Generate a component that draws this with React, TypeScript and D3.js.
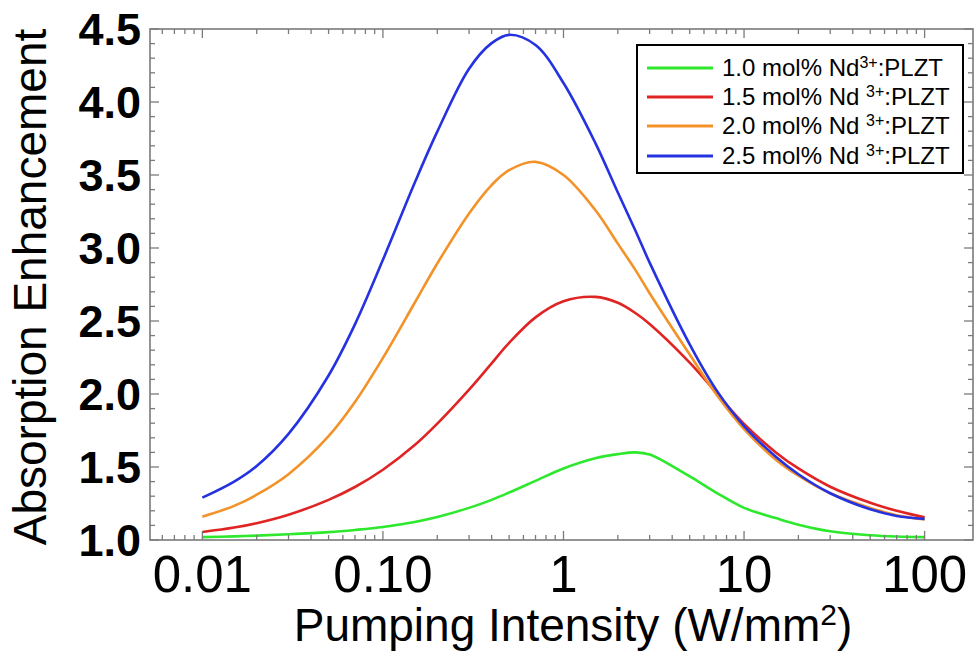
import React, { useEffect, useRef } from "react";
import * as d3 from "d3";

const intensity = [0.01, 0.015, 0.02, 0.03, 0.05, 0.07, 0.1, 0.15, 0.2, 0.3, 0.4, 0.5, 0.7, 1, 1.5, 2, 2.5, 3, 5, 7, 10, 15, 20, 30, 50, 70, 100];

const nd10 = [1.02, 1.025, 1.03, 1.039, 1.054, 1.069, 1.089, 1.123, 1.157, 1.22, 1.275, 1.325, 1.405, 1.49, 1.56, 1.588, 1.6, 1.585, 1.435, 1.325, 1.22, 1.15, 1.105, 1.06, 1.033, 1.024, 1.02];
const nd15 = [1.055, 1.085, 1.115, 1.173, 1.275, 1.363, 1.481, 1.65, 1.797, 2.03, 2.21, 2.35, 2.525, 2.635, 2.665, 2.625, 2.555, 2.48, 2.215, 2.01, 1.795, 1.6, 1.49, 1.365, 1.255, 1.2, 1.155];
const nd20 = [1.16, 1.234, 1.31, 1.451, 1.711, 1.945, 2.247, 2.625, 2.894, 3.237, 3.431, 3.533, 3.59, 3.5, 3.26, 3.03, 2.85, 2.69, 2.27, 2.0, 1.76, 1.55, 1.44, 1.32, 1.22, 1.17, 1.14];
const nd25 = [1.29, 1.4, 1.507, 1.727, 2.127, 2.477, 2.919, 3.447, 3.797, 4.228, 4.403, 4.46, 4.39, 4.13, 3.72, 3.38, 3.12, 2.9, 2.34, 2.03, 1.78, 1.57, 1.45, 1.32, 1.21, 1.165, 1.145];

const seriesNames = ["1.0 mol% Nd", "1.5 mol% Nd ", "2.0 mol% Nd ", "2.5 mol% Nd "];
const seriesValues = [nd10, nd15, nd20, nd25];
const seriesColors = ["#2de82d", "#e02424", "#f39228", "#2432e0"];

const xTickValues = [0.01, 0.1, 1, 10, 100];
const xTickLabels = ["0.01", "0.10", "1", "10", "100"];
const yTickValues = [1.0, 1.5, 2.0, 2.5, 3.0, 3.5, 4.0, 4.5];

const App = () => {
    const svgRef = useRef(null);

    useEffect(() => {
        const svg = d3.select(svgRef.current);
        svg.selectAll("*").remove();

        const left = 150, right = 973, top = 29, bottom = 540;
        const frameColor = "#7a7a7a";

        const x = d3.scaleLog()
            .domain([Math.pow(10, -2.29), Math.pow(10, 2.268)])
            .range([left, right]);
        const y = d3.scaleLinear().domain([1, 4.5]).range([bottom, top]);

        // curves
        const line = d3.line()
            .x(d => x(d[0]))
            .y(d => y(d[1]))
            .curve(d3.curveCatmullRom.alpha(0.5));

        seriesValues.forEach((vals, i) => {
            svg.append("path")
                .datum(intensity.map((v, j) => [v, vals[j]]))
                .attr("d", line)
                .attr("fill", "none")
                .attr("stroke", seriesColors[i])
                .attr("stroke-width", 2.6);
        });

        // frame
        svg.append("rect")
            .attr("x", left).attr("y", top)
            .attr("width", right - left).attr("height", bottom - top)
            .attr("fill", "none")
            .attr("stroke", frameColor)
            .attr("stroke-width", 1.6);

        // ticks, pointing inward on all four sides
        const ticks = svg.append("g").attr("stroke", frameColor).attr("stroke-width", 1.3);
        const xMinor = x.ticks().filter(t => x(t) > left + 2 && x(t) < right - 2);
        xMinor.forEach(t => {
            const major = xTickValues.some(m => Math.abs(m - t) / m < 1e-6);
            const len = major ? 9 : 5;
            ticks.append("line").attr("x1", x(t)).attr("x2", x(t)).attr("y1", bottom).attr("y2", bottom - len);
            ticks.append("line").attr("x1", x(t)).attr("x2", x(t)).attr("y1", top).attr("y2", top + len);
        });
        d3.range(10, 46).map(v => v / 10).forEach(v => {
            const major = Math.abs(v * 2 - Math.round(v * 2)) < 1e-6;
            const len = major ? 9 : 5;
            ticks.append("line").attr("x1", left).attr("x2", left + len).attr("y1", y(v)).attr("y2", y(v));
            ticks.append("line").attr("x1", right).attr("x2", right - len).attr("y1", y(v)).attr("y2", y(v));
        });

        // tick labels
        svg.append("g")
            .selectAll("text")
            .data(xTickValues)
            .enter()
            .append("text")
            .attr("x", d => x(d))
            .attr("y", 592)
            .attr("text-anchor", "middle")
            .attr("font-family", "Liberation Sans, Arial, sans-serif")
            .attr("font-size", 51)
            .attr("fill", "#000")
            .text((d, i) => xTickLabels[i]);

        svg.append("g")
            .selectAll("text")
            .data(yTickValues)
            .enter()
            .append("text")
            .attr("x", 141)
            .attr("y", d => y(d) + 16)
            .attr("text-anchor", "end")
            .attr("font-family", "Liberation Sans, Arial, sans-serif")
            .attr("font-weight", "bold")
            .attr("font-size", 45)
            .attr("fill", "#000")
            .text(d => d.toFixed(1));

        // axis titles
        const xt = svg.append("text")
            .attr("x", 573)
            .attr("y", 641)
            .attr("text-anchor", "middle")
            .attr("font-family", "Liberation Sans, Arial, sans-serif")
            .attr("font-size", 46)
            .attr("fill", "#000");
        xt.append("tspan").text("Pumping Intensity (W/mm");
        xt.append("tspan").attr("baseline-shift", "super").attr("font-size", 30).text("2");
        xt.append("tspan").text(")");

        svg.append("text")
            .attr("transform", "translate(46,287) rotate(-90)")
            .attr("text-anchor", "middle")
            .attr("font-family", "Liberation Sans, Arial, sans-serif")
            .attr("font-size", 46)
            .attr("fill", "#000")
            .text("Absorption Enhancement");

        // legend
        const legend = svg.append("g");
        legend.append("rect")
            .attr("x", 637).attr("y", 45)
            .attr("width", 326).attr("height", 128)
            .attr("fill", "#fff")
            .attr("stroke", "#000")
            .attr("stroke-width", 2);
        const rowY = [68, 97, 126, 156];
        seriesNames.forEach((name, i) => {
            legend.append("line")
                .attr("x1", 647).attr("x2", 713)
                .attr("y1", rowY[i]).attr("y2", rowY[i])
                .attr("stroke", seriesColors[i])
                .attr("stroke-width", 3);
            const t = legend.append("text")
                .attr("x", 722)
                .attr("y", rowY[i] + 8)
                .attr("font-family", "Liberation Sans, Arial, sans-serif")
                .attr("font-size", 24)
                .attr("fill", "#000")
                .attr("xml:space", "preserve")
                .style("white-space", "pre");
            t.append("tspan").text(name);
            t.append("tspan").attr("baseline-shift", "super").attr("font-size", 16).text("3+");
            t.append("tspan").text(":PLZT");
        });
    }, []);

    return (
        <svg
            ref={svgRef}
            width={976}
            height={652}
            style={{ position: "absolute", left: 0, top: 0, background: "#fff" }}
        ></svg>
    );
};

export default App;
